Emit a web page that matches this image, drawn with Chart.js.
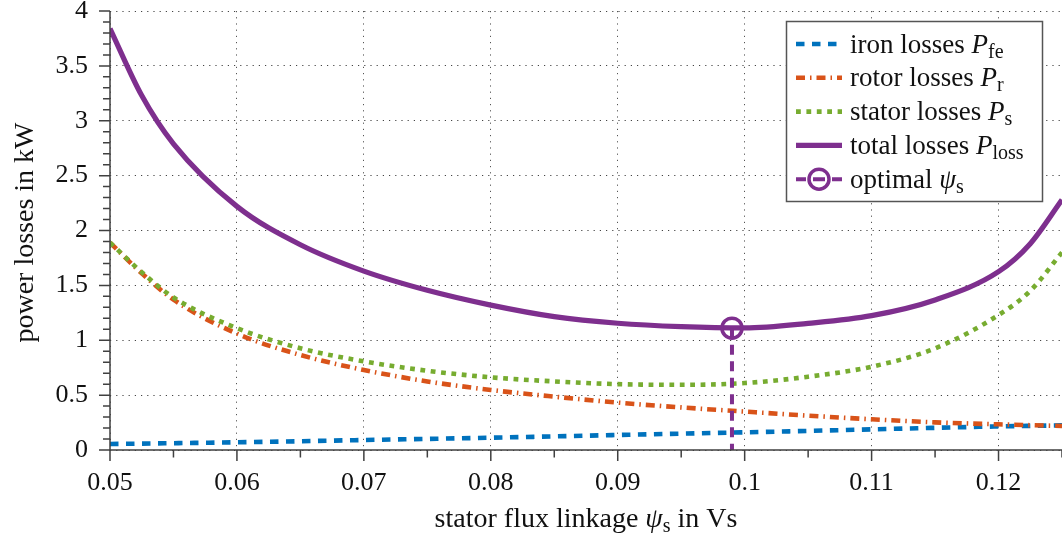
<!DOCTYPE html>
<html><head><meta charset="utf-8">
<script src="https://cdn.jsdelivr.net/npm/chart.js@4.4.1/dist/chart.umd.min.js"></script>
<style>html,body{margin:0;padding:0;background:#fff}#wrap{width:1062px;height:540px;position:relative}</style>
</head><body><div id="wrap"><canvas id="c" width="1062" height="540"></canvas></div>
<script>
// ---- data ----
const psi        = [0.05, 0.0525, 0.055, 0.06, 0.065, 0.07, 0.075, 0.08, 0.085, 0.09, 0.095, 0.1, 0.105, 0.11, 0.115, 0.12, 0.1225, 0.125];
const ironLoss   = [0.055, 0.058, 0.062, 0.070, 0.080, 0.091, 0.101, 0.112, 0.124, 0.137, 0.149, 0.161, 0.174, 0.188, 0.202, 0.215, 0.220, 0.225];
const rotorLoss  = [1.89, 1.61, 1.37, 1.06, 0.866, 0.729, 0.625, 0.547, 0.486, 0.432, 0.388, 0.350, 0.313, 0.280, 0.252, 0.234, 0.226, 0.219];
const statorLoss = [1.89, 1.62, 1.39, 1.11, 0.927, 0.808, 0.722, 0.662, 0.625, 0.600, 0.594, 0.610, 0.668, 0.759, 0.926, 1.23, 1.45, 1.80];
const totalLoss  = [3.84, 3.23, 2.79, 2.22, 1.87, 1.63, 1.455, 1.32, 1.215, 1.155, 1.124, 1.112, 1.154, 1.224, 1.367, 1.625, 1.88, 2.28];
const optPsi = 0.099;
const optLoss = 1.11;

const xTicks = [0.05, 0.06, 0.07, 0.08, 0.09, 0.1, 0.11, 0.12];
const xTickLabels = ['0.05', '0.06', '0.07', '0.08', '0.09', '0.1', '0.11', '0.12'];
const yTicks = [0, 0.5, 1, 1.5, 2, 2.5, 3, 3.5, 4];
const yTickLabels = ['0', '0.5', '1', '1.5', '2', '2.5', '3', '3.5', '4'];

const legendText = ['iron losses ', 'rotor losses ', 'stator losses ', 'total losses ', 'optimal '];
const legendSym  = ['P', 'P', 'P', 'P', 'ψ'];
const legendSub  = ['fe', 'r', 's', 'loss', 's'];
const xTitle = ['stator flux linkage ', 'ψ', 's', ' in Vs'];
const yTitle = 'power losses in kW';

// ---- styles ----
const FONT = "'Liberation Serif', 'Times New Roman', serif";
const C_BLUE = '#0072BD', C_ORANGE = '#D95319', C_GREEN = '#77AC30', C_PURPLE = '#7E2F8E';
const DASH_IRON = [8.5, 7.5], DASH_ROTOR = [9, 5, 1.5, 5], DASH_STATOR = [4.8, 5.6], DASH_OPT = [10, 6.5];

const pts = arr => arr.map((v, i) => ({x: psi[i], y: v}));

// minor ticks (every 0.005 on x, every 0.1 on y)
const xMinor = [];
for (let i = 0; i < xTicks.length; i++) {
  const next = i + 1 < xTicks.length ? xTicks[i + 1] : xTicks[i] + 0.01;
  xMinor.push((xTicks[i] + next) / 2);
}
const yMinor = [];
for (let i = 0; i + 1 < yTicks.length; i++) {
  for (let k = 1; k < 5; k++) yMinor.push(yTicks[i] + (yTicks[i + 1] - yTicks[i]) * k / 5);
}

function richText(ctx, x, y, parts, align) {
  let w = 0;
  parts.forEach(p => { ctx.font = p.font; w += ctx.measureText(p.t).width; });
  let cx = align === 'center' ? x - w / 2 : x;
  parts.forEach(p => { ctx.font = p.font; ctx.fillText(p.t, cx, y + (p.dy || 0)); cx += ctx.measureText(p.t).width; });
}

const decorPlugin = {
  id: 'decor',
  afterDatasetsDraw(chart) {
    const {ctx, chartArea: a, scales: {x, y}} = chart;
    ctx.save();
    // axis lines
    ctx.strokeStyle = '#404040';
    ctx.lineWidth = 1.5;
    ctx.setLineDash([]);
    ctx.beginPath();
    ctx.moveTo(a.left, a.top); ctx.lineTo(a.left, a.bottom); ctx.lineTo(a.right, a.bottom);
    ctx.stroke();
    // ticks
    ctx.beginPath();
    xTicks.forEach(v => { const px = x.getPixelForValue(v); ctx.moveTo(px, a.bottom); ctx.lineTo(px, a.bottom + 11); });
    xMinor.forEach(v => { const px = x.getPixelForValue(v); ctx.moveTo(px, a.bottom); ctx.lineTo(px, a.bottom + 7.5); });
    yTicks.forEach(v => { const py = y.getPixelForValue(v); ctx.moveTo(a.left, py); ctx.lineTo(a.left - 11, py); });
    yMinor.forEach(v => { const py = y.getPixelForValue(v); ctx.moveTo(a.left, py); ctx.lineTo(a.left - 7, py); });
    ctx.stroke();

    // axis titles
    ctx.fillStyle = '#111';
    ctx.textBaseline = 'alphabetic';
    ctx.textAlign = 'left';
    const f = '27px ' + FONT, fi = 'italic 27px ' + FONT, fs = '20px ' + FONT;
    const ft = '28px ' + FONT, fti = 'italic 28px ' + FONT;
    richText(ctx, (a.left + a.right) / 2, 527, [
      {t: xTitle[0], font: ft}, {t: xTitle[1], font: fti}, {t: xTitle[2], font: fs, dy: 5}, {t: xTitle[3], font: ft}
    ], 'center');
    ctx.save();
    ctx.translate(33, (a.top + a.bottom) / 2 + 2);
    ctx.rotate(-Math.PI / 2);
    ctx.font = ft;
    ctx.textAlign = 'center';
    ctx.fillText(yTitle, 0, 0);
    ctx.restore();

    // legend
    const L = 786.5, T = 21.5, W = 256, H = 180;
    ctx.fillStyle = '#fff';
    ctx.fillRect(L, T, W, H);
    ctx.strokeStyle = '#555';
    ctx.lineWidth = 1.5;
    ctx.strokeRect(L, T, W, H);
    const ds = chart.data.datasets;
    for (let i = 0; i < legendText.length; i++) {
      const yc = 44 + i * 33.8;
      const d = ds[i];
      ctx.strokeStyle = d.borderColor;
      ctx.lineCap = 'butt';
      if (i < 4) {
        ctx.lineWidth = d.borderWidth;
        ctx.setLineDash(d.borderDash || []);
        ctx.beginPath(); ctx.moveTo(796, yc); ctx.lineTo(842, yc); ctx.stroke();
      } else {
        ctx.lineWidth = 4;
        ctx.setLineDash([]);
        ctx.beginPath();
        ctx.moveTo(796, yc); ctx.lineTo(806, yc);
        ctx.moveTo(813, yc); ctx.lineTo(825, yc);
        ctx.moveTo(832, yc); ctx.lineTo(842, yc);
        ctx.stroke();
        ctx.lineWidth = 3.5;
        ctx.beginPath(); ctx.arc(819, yc, 10, 0, Math.PI * 2); ctx.stroke();
      }
      ctx.setLineDash([]);
      ctx.fillStyle = '#111';
      richText(ctx, 850, yc + 8.5, [
        {t: legendText[i], font: f}, {t: legendSym[i], font: fi}, {t: legendSub[i], font: fs, dy: 5}
      ], 'left');
    }
    ctx.restore();
  }
};

const tickFont = {family: FONT, size: 26};

new Chart(document.getElementById('c'), {
  type: 'line',
  data: {
    datasets: [
      {label: 'iron losses', data: pts(ironLoss), borderColor: C_BLUE, borderWidth: 4.6, borderDash: DASH_IRON, order: 5},
      {label: 'rotor losses', data: pts(rotorLoss), borderColor: C_ORANGE, borderWidth: 4.6, borderDash: DASH_ROTOR, order: 4},
      {label: 'stator losses', data: pts(statorLoss), borderColor: C_GREEN, borderWidth: 4.6, borderDash: DASH_STATOR, order: 3},
      {label: 'total losses', data: pts(totalLoss), borderColor: C_PURPLE, borderWidth: 5.2, order: 2},
      {label: 'optimal', data: [{x: optPsi, y: optLoss}, {x: optPsi, y: 0}], borderColor: C_PURPLE, borderWidth: 4,
       borderDash: DASH_OPT, tension: 0, cubicInterpolationMode: 'default',
       pointRadius: [10, 0], pointBorderWidth: 3.5, pointBorderColor: C_PURPLE, pointBackgroundColor: 'rgba(0,0,0,0)', order: 1}
    ]
  },
  options: {
    responsive: false,
    animation: false,
    events: [],
    datasets: {line: {pointRadius: 0, fill: false, cubicInterpolationMode: 'monotone', borderCapStyle: 'butt', borderJoinStyle: 'round'}},
    layout: {autoPadding: false, padding: {top: 11, right: 0, left: 0, bottom: 0}},
    plugins: {legend: {display: false}, tooltip: {enabled: false}, title: {display: false}},
    scales: {
      x: {
        type: 'linear', min: 0.05, max: 0.125,
        afterBuildTicks: s => { s.ticks = xTicks.map(v => ({value: v})); },
        afterFit: s => { s.height = 90; s.paddingLeft = 0; s.paddingRight = 0; s.paddingTop = 0; s.paddingBottom = 0; },
        ticks: {font: tickFont, color: '#111', padding: 18, maxRotation: 0, autoSkip: false,
                callback: (v, i) => xTickLabels[i]},
        grid: {color: '#555', lineWidth: 1, drawTicks: false},
        border: {display: false, dash: [1.2, 5]}
      },
      y: {
        type: 'linear', min: 0, max: 4,
        afterBuildTicks: s => { s.ticks = yTicks.map(v => ({value: v})); },
        afterFit: s => { s.width = 110; s.paddingLeft = 0; s.paddingRight = 0; s.paddingTop = 0; s.paddingBottom = 0; },
        ticks: {font: {family: FONT, size: 26, lineHeight: 0.8}, color: '#111', padding: 22, autoSkip: false,
                callback: (v, i) => yTickLabels[i]},
        grid: {color: '#444', lineWidth: 1, drawTicks: false},
        border: {display: false, dash: [1.2, 5]}
      }
    }
  },
  plugins: [decorPlugin]
});
</script>
</body></html>
